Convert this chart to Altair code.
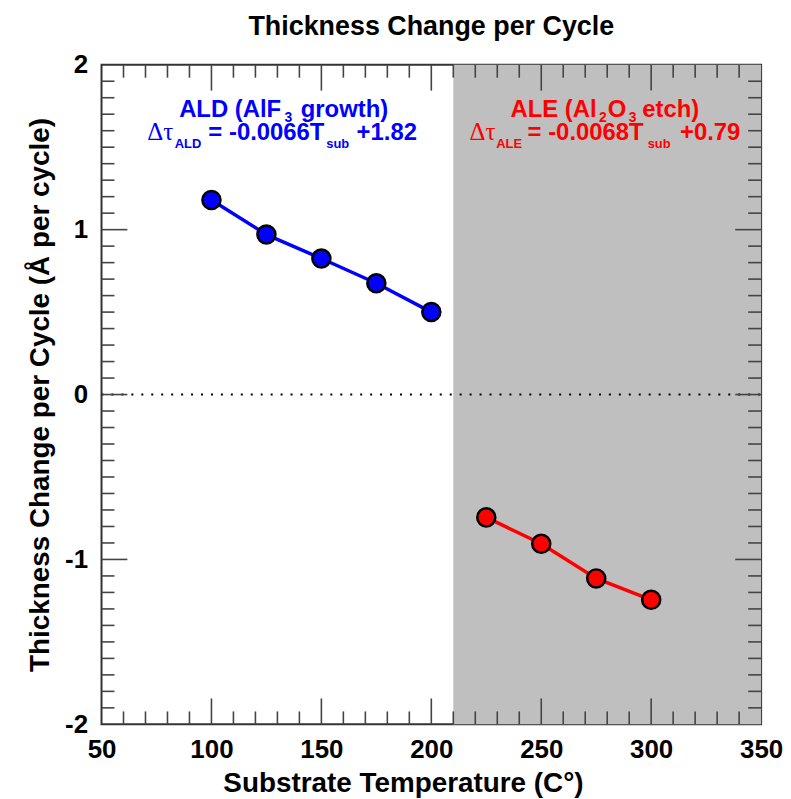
import altair as alt
import pandas as pd

# ---- data ----
ald_temp = [100, 125, 150, 175, 200]
ald_val = [1.18, 0.97, 0.825, 0.675, 0.50]
ale_temp = [225, 250, 275, 300]
ale_val = [-0.745, -0.905, -1.115, -1.245]

etch_region = [210, 350]

x_ticks = [50, 100, 150, 200, 250, 300, 350]
y_ticks = [-2, -1, 0, 1, 2]
x_major = [100, 150, 200, 250, 300]
x_minor = [v for v in range(60, 350, 10) if v % 50 != 0]
y_major = [-1, 0, 1]
y_minor = [i / 10 for i in range(-19, 20) if i % 10 != 0]

# annotation segments (text, x, y, fontsize, color)
seg_text = ["ALD (AlF", "3", "growth)",
            "ALE (Al", "2", "O", "3", "etch)",
            "ALD", "= -0.0066T", "sub", "+1.82",
            "ALE", "= -0.0068T", "sub", "+0.79"]
seg_x = [85.3, 133.2, 140.6,
         236.0, 276.3, 280.2, 289.8, 295.9,
         83.3, 98.6, 152.2, 166.0,
         229.5, 243.8, 298.4, 313.1]
seg_y = [1.686, 1.650, 1.686,
         1.686, 1.650, 1.686, 1.650, 1.686,
         1.497, 1.541, 1.497, 1.541,
         1.497, 1.541, 1.497, 1.541]
seg_size = [24, 14, 24,
            24, 14, 24, 14, 24,
            13, 24, 13, 24,
            13, 24, 13, 24]
seg_color = ["#0000ff"] * 3 + ["#ff0000"] * 5 + ["#0000ff"] * 4 + ["#ff0000"] * 4

greek_text = ["\u0394\u03c4", "\u0394\u03c4"]
greek_x = [70.8, 217.4]
greek_y = [1.541, 1.541]
greek_color = ["#0000ff", "#ff0000"]

W = H = 663
FONT = "Liberation Sans"
TICK_COLOR = "#444444"
MAJ, MIN = 26, 13

xs = alt.Scale(domain=[50, 350], nice=False, zero=False)
ys = alt.Scale(domain=[-2, 2], nice=False, zero=False)

x_axis = alt.Axis(values=x_ticks, labelExpr="'' + datum.value", grid=False, domain=False, ticks=False,
                  tickSize=0, labelFont=FONT, labelFontSize=26, labelFontWeight="bold", labelColor="black",
                  labelPadding=12, labelFlush=False, labelOverlap=False,
                  title="Substrate Temperature (C\u00b0)", titleFont=FONT, titleFontSize=28,
                  titleFontWeight="bold", titleColor="black", titlePadding=8,
                  titleX=303, titleAlign="center")
y_axis = alt.Axis(values=y_ticks, labelExpr="'' + datum.value", grid=False, domain=False, ticks=False,
                  tickSize=0, labelFont=FONT, labelFontSize=26, labelFontWeight="bold", labelColor="black",
                  labelPadding=14, labelFlush=False, labelOverlap=False,
                  title="Thickness Change per Cycle (\u00c5 per cycle)", titleFont=FONT, titleFontSize=28,
                  titleFontWeight="bold", titleColor="black", titlePadding=10)


def X(f):
    return alt.X(f, scale=xs, axis=x_axis)


def Y(f):
    return alt.Y(f, scale=ys, axis=y_axis)


ald = pd.DataFrame({"t": ald_temp, "v": ald_val})
ale = pd.DataFrame({"t": ale_temp, "v": ale_val})

shade = alt.Chart(pd.DataFrame({"x0": [etch_region[0]], "x1": [etch_region[1]]})).mark_rect(
    color="#bfbfbf").encode(
    x=X("x0:Q"), x2="x1:Q",
    y=alt.value(0), y2=alt.value(H))

zero = alt.Chart(pd.DataFrame({"z": [0]})).mark_rule(
    color="black", strokeWidth=2, strokeDash=[2, 8]).encode(
    y=Y("z:Q"), x=alt.value(0), x2=alt.value(W))


def xticks(vals, length):
    d = pd.DataFrame({"p": vals})
    base = alt.Chart(d).mark_rule(color=TICK_COLOR, strokeWidth=1.6)
    bottom = base.encode(x=X("p:Q"), y=alt.value(H), y2=alt.value(H - length))
    top = base.encode(x=X("p:Q"), y=alt.value(0), y2=alt.value(length))
    return [bottom, top]


def yticks(vals, length):
    d = pd.DataFrame({"p": vals})
    base = alt.Chart(d).mark_rule(color=TICK_COLOR, strokeWidth=1.6)
    left = base.encode(y=Y("p:Q"), x=alt.value(0), x2=alt.value(length))
    right = base.encode(y=Y("p:Q"), x=alt.value(W), x2=alt.value(W - length))
    return [left, right]


tick_layers = xticks(x_major, MAJ) + xticks(x_minor, MIN) + yticks(y_major, MAJ) + yticks(y_minor, MIN)

ald_line = alt.Chart(ald).mark_line(color="#0000ff", strokeWidth=3.5).encode(x=X("t:Q"), y=Y("v:Q"))
ald_pts = alt.Chart(ald).mark_point(filled=True, fill="#0000ff", stroke="black", strokeWidth=2.5,
                                     size=330, opacity=1, shape="circle").encode(x=X("t:Q"), y=Y("v:Q"))
ale_line = alt.Chart(ale).mark_line(color="#ff0000", strokeWidth=3.5).encode(x=X("t:Q"), y=Y("v:Q"))
ale_pts = alt.Chart(ale).mark_point(filled=True, fill="#ff0000", stroke="black", strokeWidth=2.5,
                                     size=330, opacity=1, shape="circle").encode(x=X("t:Q"), y=Y("v:Q"))

segs = pd.DataFrame({"text": seg_text, "x": seg_x, "y": seg_y, "size": seg_size, "color": seg_color})
seg_layer = alt.Chart(segs).mark_text(font=FONT, fontWeight="bold", align="left",
                                      baseline="alphabetic").encode(
    x=X("x:Q"), y=Y("y:Q"),
    text="text:N", size=alt.Size("size:Q", scale=None, legend=None),
    color=alt.Color("color:N", scale=None, legend=None))

greek = pd.DataFrame({"text": greek_text, "x": greek_x, "y": greek_y, "color": greek_color})
greek_layer = alt.Chart(greek).mark_text(font="Liberation Serif", fontSize=25, align="left",
                                         baseline="alphabetic").encode(
    x=X("x:Q"), y=Y("y:Q"),
    text="text:N", color=alt.Color("color:N", scale=None, legend=None))

chart = alt.layer(
    shade, zero, *tick_layers, ald_line, ale_line, ald_pts, ale_pts, seg_layer, greek_layer
).properties(
    width=W, height=H,
    title=alt.TitleParams("Thickness Change per Cycle", font=FONT, fontSize=27, fontWeight="bold",
                          color="black", offset=11, anchor="middle"),
    autosize=alt.AutoSizeParams(type="none"),
    padding={"left": 94, "top": 55, "right": 22, "bottom": 72},
).configure_view(stroke="#333333", strokeWidth=2)

chart.save("out.html", embed_options={"renderer": "svg", "actions": False})
